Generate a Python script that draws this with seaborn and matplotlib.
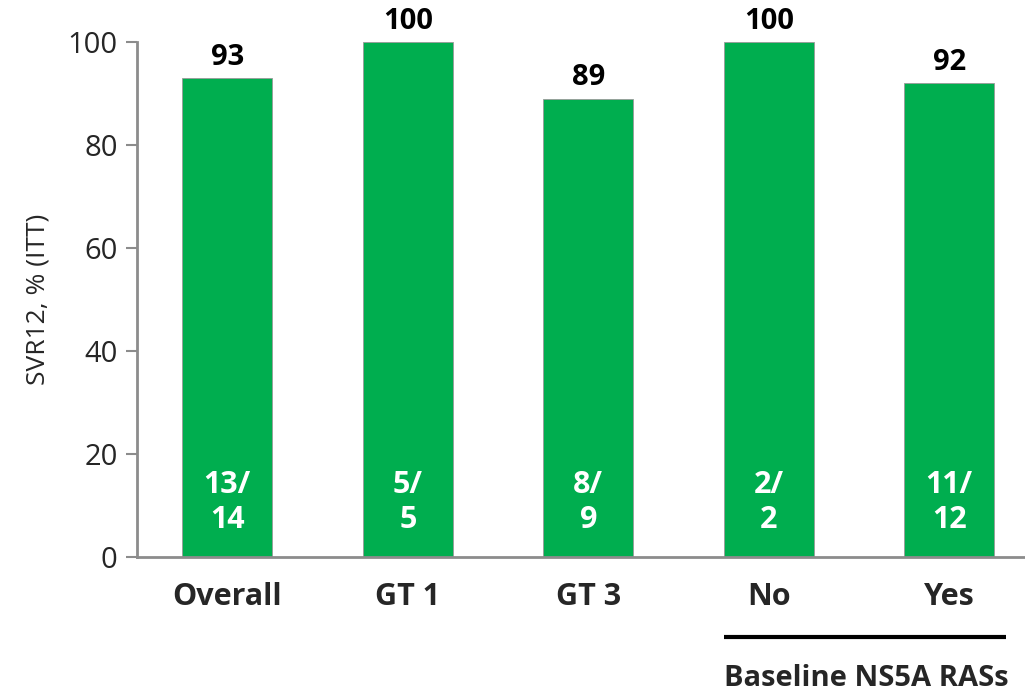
import matplotlib
matplotlib.use("Agg")
import matplotlib.pyplot as plt
import seaborn as sns
import pandas as pd

# SVR12 results by subgroup
categories = ["Overall", "GT 1", "GT 3", "No", "Yes"]
svr12 = [93, 100, 89, 100, 92]
responders = [13, 5, 8, 2, 11]
patients = [14, 5, 9, 2, 12]
y_ticks = [0, 20, 40, 60, 80, 100]

sns.set_theme(style="white")
plt.rcParams["font.family"] = ["Open Sans", "DejaVu Sans"]

df = pd.DataFrame({"group": categories, "svr": svr12})

fig = plt.figure(figsize=(10.25, 6.93), dpi=100)
ax = fig.add_axes([0.1337, 0.1962, 0.8663, 0.7432])

green = "#00AE4F"
sns.barplot(data=df, x="group", y="svr", color=green, width=0.5,
            saturation=1, edgecolor="#9a9a9a", linewidth=0.6, ax=ax)

ax.set_ylim(0, 100)
ax.set_xlim(-0.5, 4.42)
ax.set_yticks(y_ticks)
ax.set_yticklabels([str(t) for t in y_ticks], fontsize=21)
ax.set_xticks(range(len(categories)))
ax.set_xticklabels(categories, fontsize=22, fontweight="bold")
ax.tick_params(axis="y", which="both", left=True, length=8, width=1.5,
               color="#8c8c8c", pad=6)
ax.tick_params(axis="x", bottom=False, pad=12)

ax.set_xlabel("")
ax.set_ylabel("SVR12, % (ITT)", fontsize=19, labelpad=12)

for side in ("top", "right"):
    ax.spines[side].set_visible(False)
for side in ("left", "bottom"):
    ax.spines[side].set_color("#8c8c8c")
    ax.spines[side].set_linewidth(2)

# value labels above bars and n/N inside bars
for i, (v, r, n) in enumerate(zip(svr12, responders, patients)):
    ax.text(i, v + 1.2, str(v), ha="center", va="bottom",
            fontsize=21, fontweight="bold", color="black")
    ax.text(i, 10.6, f"{r}/\n{n}", ha="center", va="center",
            fontsize=22, fontweight="bold", color="white", linespacing=1.2)

# bracket under the NS5A RAS groups
trans = ax.get_xaxis_transform()
ax.plot([2.75, 4.316], [-0.155, -0.155], transform=trans, color="black",
        linewidth=3, clip_on=False, solid_capstyle="butt")
ax.text(2.75, -0.235, "Baseline NS5A RASs", transform=trans, ha="left",
        va="center", fontsize=21, fontweight="bold", clip_on=False)

fig.savefig("out.png", dpi=100)
